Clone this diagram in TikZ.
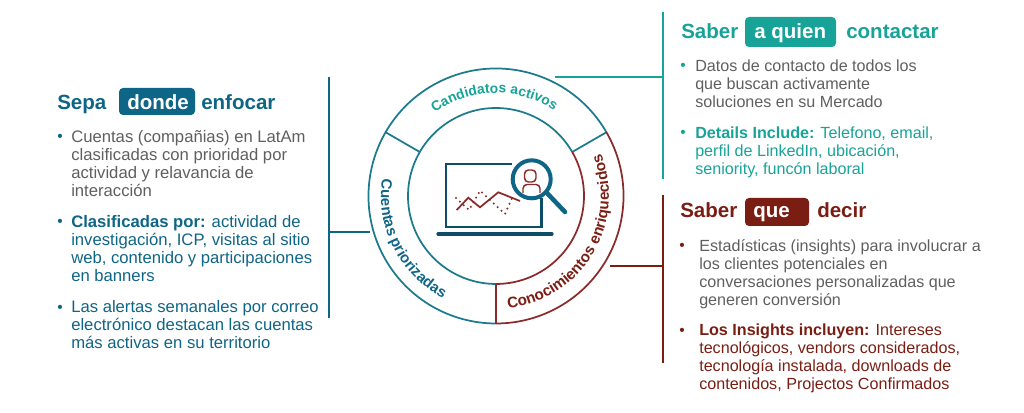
\documentclass[tikz,border=0pt]{standalone}
\usepackage{fontspec}
\setmainfont{Liberation Sans}
\usetikzlibrary{decorations.text}
\definecolor{navy}{HTML}{0F6585}
\definecolor{navydk}{HTML}{0F4C66}
\definecolor{ringblue}{HTML}{1B7A8C}
\definecolor{teal2}{HTML}{17A398}
\definecolor{wine}{HTML}{7A1E14}
\definecolor{ringred}{HTML}{8B2A2A}
\definecolor{bodygrey}{HTML}{5F5F5F}
\newcommand{\arcfontA}{\fontsize{10.4}{12}\selectfont\bfseries}
\newcommand{\arcfontB}{\fontsize{11.2}{13}\selectfont\bfseries}
\newcommand{\arcfontC}{\fontsize{11.4}{13}\selectfont\bfseries}
\tikzset{
  titletext/.style={anchor=base west,inner sep=0pt,font=\fontsize{15.4}{18}\selectfont\bfseries},
  bodytext/.style={anchor=north west,inner sep=0pt,align=left,font=\fontsize{12.1}{13.5}\selectfont},
  bodyleft/.style={anchor=north west,inner sep=0pt,align=left,font=\fontsize{12.5}{13.5}\selectfont},
  bulletmark/.style={anchor=base,inner sep=0pt,font=\fontsize{11.6}{13.5}\selectfont},
  ringline/.style={line width=1.3pt},
  leader/.style={line width=1.5pt},
  arcpath/.style={decorate},
}
\newcommand{\fs}{\rule{0pt}{10pt}}
\begin{document}
\begin{tikzpicture}[x=0.75pt,y=-0.75pt]
\useasboundingbox (0,0) rectangle (1024,413);
% ring
\begin{scope}[shift={(496,196)},x=0.75pt,y=0.75pt]
  \draw[ringline,ringblue] (30:127.5) arc[start angle=30,end angle=270,radius=127.5];
  \draw[ringline,ringblue] (30:88) arc[start angle=30,end angle=270,radius=88];
  \draw[ringline,ringblue] (150:88) -- (150:127.5);
  \draw[ringline,ringblue] (30:88) -- (30:127.5);
  \draw[ringline,ringred] (30:127.5) arc[start angle=30,end angle=-90,radius=127.5];
  \draw[ringline,ringred] (30:88) arc[start angle=30,end angle=-90,radius=88];
  \draw[ringline,ringred] (270:88) -- (270:127.5);
  \path[arcpath,decoration={text along path,text align=center,text={|\arcfontA\color{teal2}|Candidatos activos}}]
    (151:103) arc[start angle=151,end angle=31,radius=103];
  \path[arcpath,decoration={text along path,text align=center,text={|\arcfontB\color{navy}|Cuentas priorizadas}}]
    (150:115) arc[start angle=150,end angle=264,radius=115];
  \path[arcpath,decoration={text along path,text align=center,text={|\arcfontC\color{wine}|Conocimientos enriquecidos}}]
    (270:113) arc[start angle=270,end angle=388,radius=113];
\end{scope}
% bars and leaders
\coordinate (ringT) at (555,77);
\coordinate (barTm) at (663,77);
\coordinate (barTa) at (663,12);
\coordinate (barTb) at (663,179);
\draw[leader,teal2] (barTa) -- (barTb);
\draw[leader,teal2] (ringT) -- (barTm);
\coordinate (ringL) at (370,232);
\coordinate (barLm) at (329,232);
\coordinate (barLa) at (329,77);
\coordinate (barLb) at (329,318);
\draw[leader,navy] (barLa) -- (barLb);
\draw[leader,navy] (ringL) -- (barLm);
\coordinate (ringR) at (610,266);
\coordinate (barRm) at (663,266);
\coordinate (barRa) at (663,195);
\coordinate (barRb) at (663,363);
\draw[leader,wine] (barRa) -- (barRb);
\draw[leader,wine] (ringR) -- (barRm);
% left panel
\node[titletext,navy] (lt1) at (57,110) {Sepa};
\fill[navy,rounded corners=3pt] (119,88) rectangle (195,115);
\node[titletext,white] (lt2) at (127,110) {donde};
\node[titletext,navy] (lt3) at (201,110) {enfocar};
\node[bulletmark,navy] (lb1) at (60,142) {•};
\node[bodyleft,bodygrey] (lp1) at (71,128.7) {\fs Cuentas (compañias) en LatAm\\clasificadas con prioridad por\\actividad y relavancia de\\interacción};
\node[bulletmark,navy] (lb2) at (60,227) {•};
\node[bodyleft,navy] (lp2) at (71,213.7) {\fs\textbf{Clasificadas por:} actividad de\\investigación, ICP, visitas al sitio\\web, contenido y participaciones\\en banners};
\node[bulletmark,navy] (lb3) at (60,312) {•};
\node[bodyleft,navy] (lp3) at (71,298.7) {\fs Las alertas semanales por correo\\electrónico destacan las cuentas\\más activas en su territorio};
% right top panel
\node[titletext,teal2] (rt1) at (681,39) {Saber};
\fill[teal2,rounded corners=3pt] (745,17) rectangle (836,47);
\node[titletext,white] (rt2) at (754,39) {a quien};
\node[titletext,teal2] (rt3) at (846,39) {contactar};
\node[bulletmark,teal2] (rb1) at (683,71) {•};
\node[bodytext,bodygrey] (rp1) at (695,57.7) {\fs Datos de contacto de todos los\\que buscan activamente\\soluciones en su Mercado};
\node[bulletmark,teal2] (rb2) at (683,138) {•};
\node[bodytext,teal2] (rp2) at (695,124.7) {\fs\textbf{Details Include:} Telefono, email,\\perfil de LinkedIn, ubicación,\\seniority, funcón laboral};
% right bottom panel
\node[titletext,wine] (qt1) at (680,218) {Saber};
\fill[wine,rounded corners=3pt] (745,198) rectangle (809,226);
\node[titletext,white] (qt2) at (753,218) {que};
\node[titletext,wine] (qt3) at (817,218) {decir};
\node[bulletmark,wine] (qb1) at (682,251) {•};
\node[bodytext,bodygrey] (qp1) at (699,237.7) {\fs Estadísticas (insights) para involucrar a\\los clientes potenciales en\\conversaciones personalizadas que\\generen conversión};
\node[bulletmark,wine] (qb2) at (682,335) {•};
\node[bodytext,wine] (qp2) at (699,321.7) {\fs\textbf{Los Insights incluyen:} Intereses\\tecnológicos, vendors considerados,\\tecnología instalada, downloads de\\contenidos, Projectos Confirmados};
% icon
\draw[navydk,line width=2.2pt] (512,164) -- (446,164) -- (446,227) -- (541.7,227) -- (541.7,198);
\draw[navydk,line width=2.4pt,line cap=round] (438,234) -- (552,234);
\draw[ringred,line width=1.3pt] (456.7,210) -- (468.3,197.7) -- (480,207.3) -- (498.3,192.3) -- (520,201);
\draw[ringred,line width=1.7pt,line cap=round,dash pattern=on 0pt off 4pt] (456,198) -- (469,210) -- (480,190.7) -- (505,214) -- (512,198);
\fill[white] (531.7,179.3) circle[radius=19];
\draw[ringred,line width=1.1pt,rounded corners=3pt] (524.5,170) rectangle (536,182);
\draw[ringred,line width=1.1pt,rounded corners=3pt] (523,193) -- (523,184.5) -- (540,184.5) -- (540,193);
\draw[navy,line width=3pt] (531.7,179.3) circle[radius=19];
\draw[navy,line width=3.4pt,line cap=round] (546.7,192.7) -- (565,212);
\end{tikzpicture}
\end{document}
